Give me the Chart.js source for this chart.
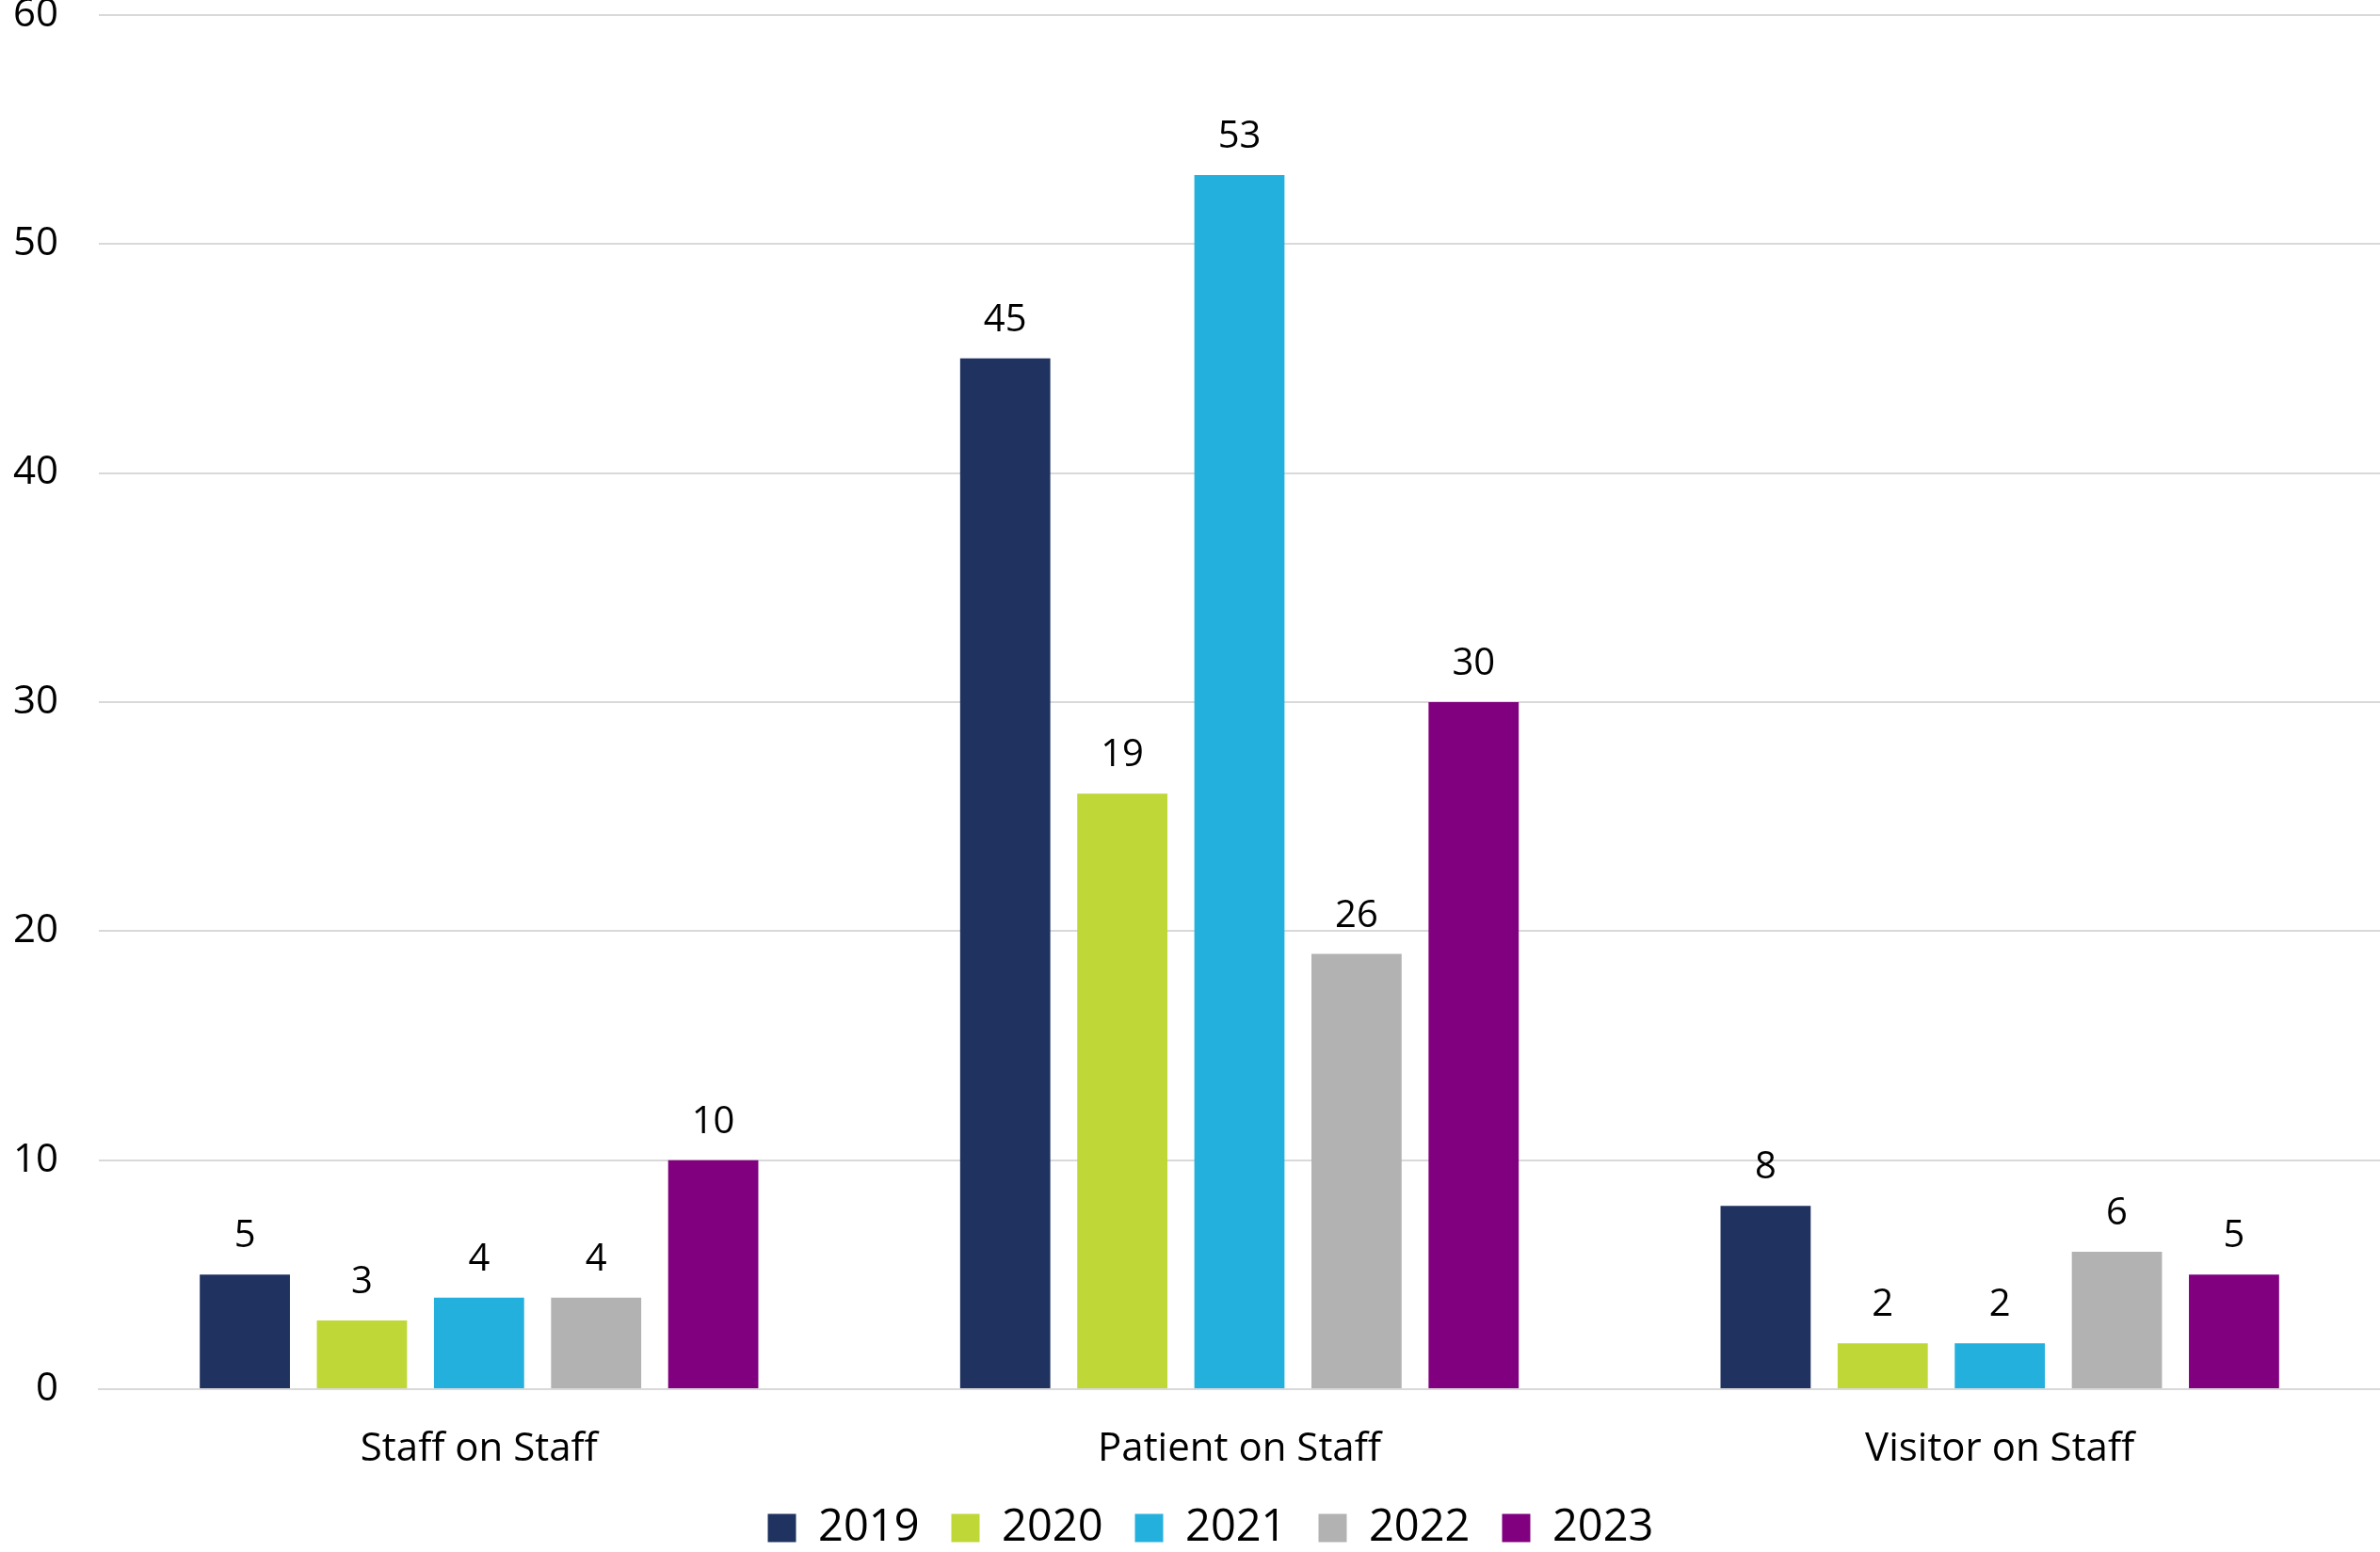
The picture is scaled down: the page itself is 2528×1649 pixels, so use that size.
<!DOCTYPE html>
<html lang="en">
<head>
  <meta charset="UTF-8">
  <title>Violence against staff by year</title>
  <script src="https://cdn.jsdelivr.net/npm/chart.js"></script>
  <style>
    body {
      margin: 0;
      padding: 0;
      background-color: #fff;
    }
    canvas {
      display: block;
    }
  </style>
</head>
<body>
  <canvas id="incidentChart" width="2528" height="1649"></canvas>

  <script>
    // Data
    const categories = ['Staff on Staff', 'Patient on Staff', 'Visitor on Staff'];
    const years = ['2019', '2020', '2021', '2022', '2023'];

    // bar heights
    const values2019 = [5, 45, 8];
    const values2020 = [3, 26, 2];
    const values2021 = [4, 53, 2];
    const values2022 = [4, 19, 6];
    const values2023 = [10, 30, 5];

    // numbers printed above the bars (as shown in the original)
    const shown2019 = [5, 45, 8];
    const shown2020 = [3, 19, 2];
    const shown2021 = [4, 53, 2];
    const shown2022 = [4, 26, 6];
    const shown2023 = [10, 30, 5];

    const yTicks = [0, 10, 20, 30, 40, 50, 60];
    const colors = ['#203260', '#BFD737', '#24B0DD', '#B2B2B2', '#800080'];

    const allValues = [values2019, values2020, values2021, values2022, values2023];
    const allShown = [shown2019, shown2020, shown2021, shown2022, shown2023];

    const fontFamily = '"Open Sans", "Segoe UI", Arial, sans-serif';

    // Draws the value text above each bar
    const barLabels = {
      id: 'barLabels',
      afterDatasetsDraw(chart) {
        const ctx = chart.ctx;
        ctx.save();
        ctx.font = '40px ' + fontFamily;
        ctx.fillStyle = '#000';
        ctx.textAlign = 'center';
        ctx.textBaseline = 'alphabetic';
        chart.data.datasets.forEach((ds, i) => {
          const meta = chart.getDatasetMeta(i);
          meta.data.forEach((bar, j) => {
            ctx.fillText(String(ds.shown[j]), bar.x, bar.y - 29);
          });
        });
        ctx.restore();
      }
    };

    // Nudge the legend a little to the right, as in the original
    const legendShift = {
      id: 'legendShift',
      afterLayout(chart) {
        if (chart.legend) {
          chart.legend.left += 44;
        }
      }
    };

    const datasets = years.map((year, i) => ({
      label: year,
      data: allValues[i],
      shown: allShown[i],
      backgroundColor: colors[i],
      borderWidth: 0,
      categoryPercentage: 0.77,
      barPercentage: 0.77
    }));

    const ctx = document.getElementById('incidentChart').getContext('2d');
    const incidentChart = new Chart(ctx, {
      type: 'bar',
      data: {
        labels: categories,
        datasets: datasets
      },
      options: {
        responsive: false,
        animation: false,
        layout: {
          padding: { top: 0, right: 0, bottom: -8, left: 0 }
        },
        plugins: {
          tooltip: { enabled: false },
          legend: {
            position: 'bottom',
            labels: {
              boxWidth: 30,
              boxHeight: 30,
              padding: 34,
              color: '#000',
              font: { family: fontFamily, size: 47 }
            }
          }
        },
        scales: {
          x: {
            afterFit(scale) {
              scale.height = 90;
            },
            grid: { display: false, drawTicks: false },
            border: { display: true, color: '#D9D9D9', width: 2 },
            ticks: {
              color: '#000',
              padding: 39,
              font: { family: fontFamily, size: 42 }
            }
          },
          y: {
            min: 0,
            max: 60,
            afterBuildTicks(scale) {
              scale.ticks = yTicks.map(v => ({ value: v }));
            },
            afterFit(scale) {
              scale.width = 105;
            },
            grid: {
              color: '#D9D9D9',
              lineWidth: 2,
              drawTicks: true,
              tickLength: 43,
              tickColor: 'rgba(0,0,0,0)'
            },
            border: { display: false },
            ticks: {
              color: '#000',
              padding: 0,
              font: { family: fontFamily, size: 42, lineHeight: 0.75 }
            }
          }
        }
      },
      plugins: [barLabels, legendShift]
    });
  </script>
</body>
</html>
